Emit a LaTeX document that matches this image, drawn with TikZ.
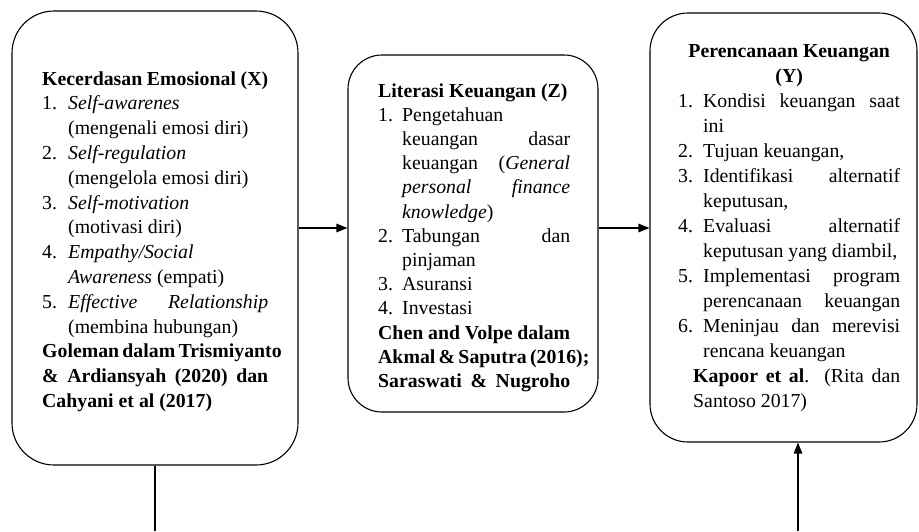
\documentclass[tikz,border=0pt]{standalone}
\usepackage{fontspec}
\setmainfont{Liberation Serif}
\usetikzlibrary{arrows.meta}
\newlength\ind
% justified full line
\newcommand\JL[1]{\hbox to\linewidth{#1}}
% left aligned full line
\newcommand\LL[1]{\hbox to\linewidth{#1\hfil}}
% centred line
\newcommand\ML[1]{\hbox to\linewidth{\hfil#1\hfil}}
% numbered item line, justified / left
\newcommand\NJ[2]{\hbox to\linewidth{\hbox to\ind{#1\hfil}#2}}
\newcommand\NL[2]{\hbox to\linewidth{\hbox to\ind{#1\hfil}#2\hfil}}
% continuation line, justified / left
\newcommand\CJ[1]{\hbox to\linewidth{\hskip\ind #1}}
\newcommand\CL[1]{\hbox to\linewidth{\hskip\ind #1\hfil}}
\begin{document}
\begin{tikzpicture}[x=1pt,y=-1pt,
  panel/.style={draw, line width=1.1pt, rounded corners=#1, inner sep=0pt},
  panel/.default=40pt,
  txt/.style={anchor=base west, inner sep=0pt},
  link/.style={line width=1.3pt},
  arr/.style={line width=1.3pt, -{Triangle[length=11pt,width=8.5pt]}}]
\useasboundingbox (0,0) rectangle (919,531);

% boxes
\node[panel=42pt, minimum width=286pt, minimum height=454pt] (X) at (155,238) {};
\node[panel=34pt, minimum width=250pt, minimum height=357pt] (Z) at (473,233.5) {};
\node[panel=38pt, minimum width=267pt, minimum height=429pt] (Y) at (783.5,227.5) {};

% texts
\node[txt] (Xt) at (42,85) {\parbox[t]{226pt}{\fontsize{19.8}{24.8}\selectfont\setlength\ind{26pt}%
\LL{\textbf{Kecerdasan Emosional (X)}}
\NL{1.}{\textit{Self-awarenes}}
\CL{(mengenali emosi diri)}
\NL{2.}{\textit{Self-regulation}}
\CL{(mengelola emosi diri)}
\NL{3.}{\textit{Self-motivation}}
\CL{(motivasi diri)}
\NL{4.}{\textit{Empathy/Social}}
\CL{\textit{Awareness} (empati)}
\NJ{5.}{\textit{Effective Relationship}}
\CL{(membina hubungan)}
\JL{\textbf{Goleman dalam Trismiyanto}}
\JL{\textbf{\& Ardiansyah (2020) dan}}
\LL{\textbf{Cahyani et al (2017)}}}};

\node[txt] (Zt) at (378,97) {\parbox[t]{192pt}{\fontsize{19.8}{24.2}\selectfont\setlength\ind{24pt}%
\LL{\textbf{Literasi Keuangan (Z)}}
\NL{1.}{Pengetahuan}
\CJ{keuangan dasar}
\CJ{keuangan (\textit{General}}
\CJ{\textit{personal finance}}
\CL{\textit{knowledge})}
\NJ{2.}{Tabungan dan}
\CL{pinjaman}
\NL{3.}{Asuransi}
\NL{4.}{Investasi}
\JL{\textbf{Chen and Volpe dalam}}
\JL{\textbf{Akmal \& Saputra (2016);}}
\JL{\textbf{Saraswati \& Nugroho}}}};

\node[txt] (Yt) at (678,57) {\parbox[t]{222pt}{\fontsize{19.8}{25}\selectfont\setlength\ind{25pt}%
\ML{\textbf{Perencanaan Keuangan}}
\ML{\textbf{(Y)}}
\NJ{1.}{Kondisi keuangan saat}
\CL{ini}
\NL{2.}{Tujuan keuangan,}
\NJ{3.}{Identifikasi alternatif}
\CL{keputusan,}
\NJ{4.}{Evaluasi alternatif}
\CL{keputusan yang diambil,}
\NJ{5.}{Implementasi program}
\CJ{perencanaan keuangan}
\NJ{6.}{Meninjau dan merevisi}
\CL{rencana keuangan}
\JL{\hskip15pt\textbf{Kapoor et al}. (Rita dan}
\LL{\hskip15pt Santoso 2017)}}};

% connectors
\coordinate (ah) at (0,228);
\coordinate (xb) at (155,531);
\coordinate (yb) at (798,531);
\draw[arr] (X.east |- ah) -- (Z.west |- ah);
\draw[arr] (Z.east |- ah) -- (Y.west |- ah);
\draw[link] (X.south) -- (X.south |- xb);
\draw[arr] (yb) -- (yb |- Y.south);
\end{tikzpicture}
\end{document}
